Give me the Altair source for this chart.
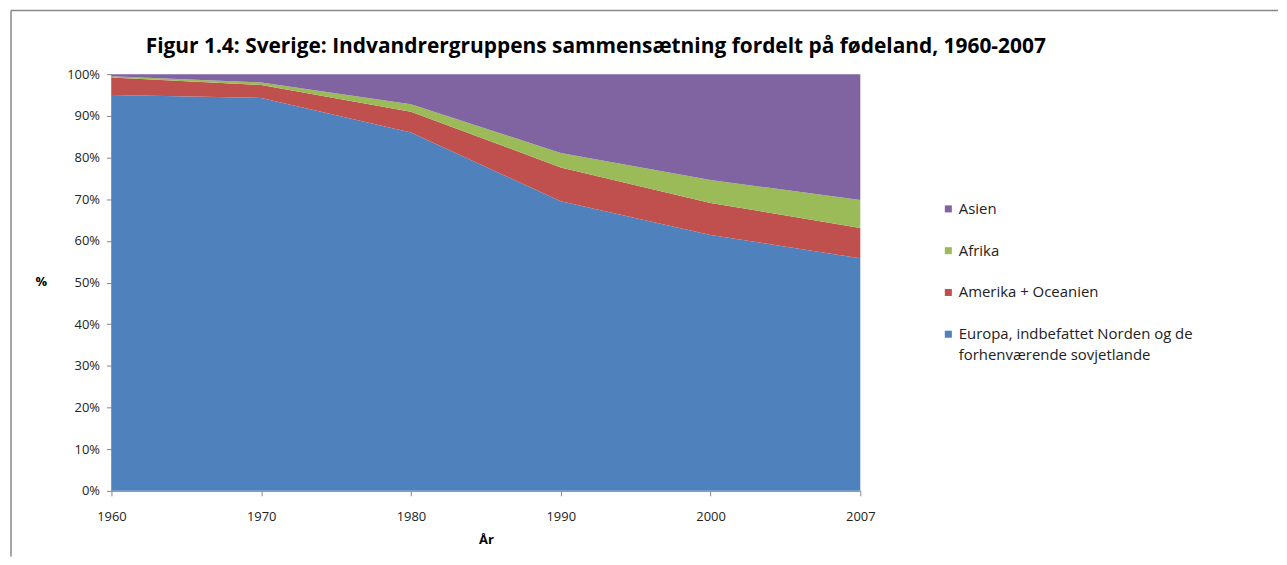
import altair as alt
import pandas as pd

years = ["1960", "1970", "1980", "1990", "2000", "2007"]
series = ["Europa, indbefattet Norden og de forhenværende sovjetlande",
          "Amerika + Oceanien", "Afrika", "Asien"]
europa = [95.0, 94.3, 86.0, 69.5, 61.4, 55.8]
amerika = [4.2, 3.1, 5.0, 8.1, 7.7, 7.3]
afrika = [0.3, 0.6, 1.8, 3.5, 5.5, 6.7]
asien = [0.5, 2.0, 7.2, 18.9, 25.4, 30.2]
colors = ["#4F81BD", "#C0504D", "#9BBB59", "#8064A2"]
title_text = "Figur 1.4: Sverige: Indvandrergruppens sammensætning fordelt på fødeland, 1960-2007"

rows = []
for si, (name, vals) in enumerate(zip(series, [europa, amerika, afrika, asien])):
    for y, v in zip(years, vals):
        rows.append({"year": y, "group": name, "value": v, "order": si})
df = pd.DataFrame(rows)

FONT = "Open Sans"
W, H = 753, 419

legend_order = list(reversed(series))
legend_colors = list(reversed(colors))

area = alt.Chart(df).mark_area(opacity=1).encode(
    x=alt.X("year:O", sort=years,
            scale=alt.Scale(type="point", padding=0),
            axis=alt.Axis(title="År", labelAngle=0, labelFontSize=13, labelPadding=15,
                          titleFontSize=13, titleFontWeight="bold", titlePadding=10,
                          tickSize=5, domainColor="#868686", tickColor="#868686",
                          labelColor="#222222", titleColor="#000000")),
    y=alt.Y("value:Q", stack="zero",
            scale=alt.Scale(domain=[0, 100], nice=False),
            axis=alt.Axis(title="%", titleAngle=0, titleX=-71, titleY=H / 2 - 1,
                          titleAlign="center", titleBaseline="middle",
                          titleFontSize=13, titleFontWeight="bold",
                          values=list(range(0, 101, 10)), labelExpr="datum.value + '%'",
                          labelFontSize=13, labelPadding=7, tickSize=5, grid=False,
                          domainColor="#868686", tickColor="#868686",
                          labelColor="#222222", titleColor="#000000")),
    color=alt.Color("group:N",
                    scale=alt.Scale(domain=legend_order, range=legend_colors),
                    legend=alt.Legend(title=None, orient="none", legendX=834, legendY=128,
                                      symbolType="square", symbolSize=50, symbolStrokeWidth=0,
                                      labelFontSize=15, labelColor="#222222", labelLimit=400,
                                      rowPadding=26, symbolOffset=0, labelOffset=3,
                                      labelExpr="datum.label == '" + series[0] + "' ? ['Europa, indbefattet Norden og de', 'forhenværende sovjetlande'] : datum.label")),
    order=alt.Order("order:Q", sort="ascending"),
)

title_df = pd.DataFrame({"t": [title_text]})
title_mark = alt.Chart(title_df).mark_text(
    font=FONT, fontSize=21, fontWeight="bold", color="#000000",
    align="center", baseline="middle", clip=False
).encode(text="t:N", x=alt.value(487), y=alt.value(-27))

frame_left = alt.Chart(title_df).mark_rule(color="#888888", strokeWidth=1.5, clip=False).encode(
    x=alt.value(-101), y=alt.value(-64), y2=alt.value(H + 66))
frame_top = alt.Chart(title_df).mark_rule(color="#888888", strokeWidth=1.5, clip=False).encode(
    x=alt.value(-101), x2=alt.value(W + 420), y=alt.value(-64))

chart = alt.layer(area, title_mark, frame_left, frame_top).properties(
    width=W, height=H,
    padding={"left": 2, "top": 0, "right": 0, "bottom": 0},
).configure(font=FONT, style={"guide-label": {"lineHeight": 21}}).configure_view(stroke=None)

chart.save("out.html", embed_options={"renderer": "svg", "actions": False})
